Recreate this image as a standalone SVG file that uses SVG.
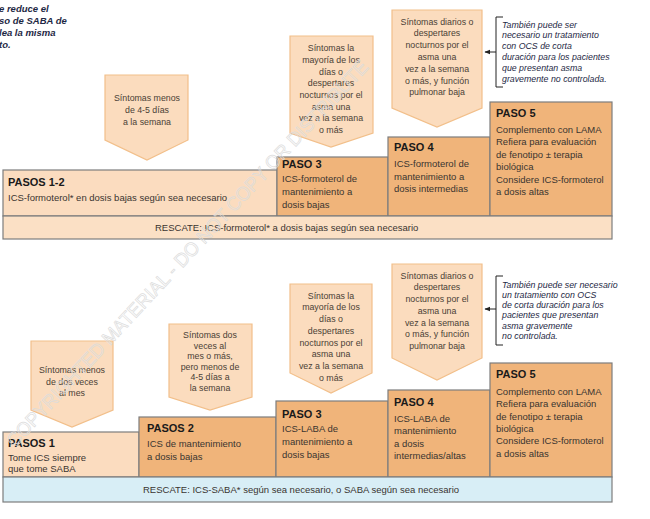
<svg xmlns="http://www.w3.org/2000/svg" width="650" height="519" viewBox="0 0 650 519">
<defs>
<style>
.bg{fill:#ffffff}
.callout{fill:#fbdcbe;stroke:#f2bf8a;stroke-width:1.2}
.light{fill:#fbdcbf;stroke:#7d7d7d;stroke-width:1.2}
.dark{fill:#f0b47a;stroke:#7d7d7d;stroke-width:1.2}
.resc1{fill:#fbe0c5;stroke:#7d7d7d;stroke-width:1.2}
.resc2{fill:#d8eef6;stroke:#7d7d7d;stroke-width:1.2}
.ct{font-family:"Liberation Sans",Arial,sans-serif;font-size:8.8px;fill:#4a3f36;text-anchor:middle}
.hd{font-family:"Liberation Sans",Arial,sans-serif;font-size:11px;font-weight:bold;fill:#1a1a1a}
.bt{font-family:"Liberation Sans",Arial,sans-serif;font-size:9.5px;fill:#3a3430}
.it{font-family:"Liberation Sans",Arial,sans-serif;font-size:8.8px;font-style:italic;fill:#1e2844}
.itb{font-family:"Liberation Sans",Arial,sans-serif;font-size:9.5px;font-style:italic;font-weight:bold;fill:#1e2844}
.br{fill:none;stroke:#222;stroke-width:1}
.wm{font-family:"Liberation Sans",Arial,sans-serif;font-size:19px;fill:none;stroke:#dcdcdc;stroke-width:0.7}
</style>
<marker id="ah" viewBox="0 0 10 10" refX="9" refY="5" markerWidth="6" markerHeight="6" orient="auto">
<path d="M0,1 L10,5 L0,9 z" fill="#222"/>
</marker>
</defs>
<rect class="bg" x="0" y="0" width="650" height="519"/>

<!-- clipped text top-left -->
<g id="note-topleft">
<text class="itb" x="-1" y="12">e reduce el</text>
<text class="itb" x="-1" y="24">so de SABA de</text>
<text class="itb" x="-1" y="36">lea la misma</text>
<text class="itb" x="-1" y="48">to.</text>
</g>

<!-- ===== TOP TRACK ===== -->
<g id="callout-t1">
<polygon class="callout" points="105,75 188,75 188,140 147,160 105,140"/>
<text class="ct" x="147" y="101">Síntomas menos</text>
<text class="ct" x="147" y="113">de 4-5 días</text>
<text class="ct" x="147" y="125">a la semana</text>
</g>
<g id="callout-t2">
<polygon class="callout" points="290,36 373,36 373,133 331,147 290,133"/>
<text class="ct" x="331" y="51">Síntomas la</text>
<text class="ct" x="331" y="63">mayoría de los</text>
<text class="ct" x="331" y="75">días o</text>
<text class="ct" x="331" y="86">despertares</text>
<text class="ct" x="331" y="98">nocturnos por el</text>
<text class="ct" x="331" y="110">asma una</text>
<text class="ct" x="331" y="121">vez a la semana</text>
<text class="ct" x="331" y="133">o más</text>
</g>
<g id="callout-t3">
<polygon class="callout" points="392,10 482,10 482,108 437,127 392,108"/>
<text class="ct" x="437" y="25">Síntomas diarios o</text>
<text class="ct" x="437" y="36">despertares</text>
<text class="ct" x="437" y="48">nocturnos por el</text>
<text class="ct" x="437" y="60">asma una</text>
<text class="ct" x="437" y="72">vez a la semana</text>
<text class="ct" x="437" y="84">o más, y función</text>
<text class="ct" x="437" y="95">pulmonar baja</text>
</g>
<g id="note-t">
<text class="it" x="502" y="28">También puede ser</text>
<text class="it" x="502" y="38">necesario un tratamiento</text>
<text class="it" x="502" y="49">con OCS de corta</text>
<text class="it" x="502" y="60">duración para los pacientes</text>
<text class="it" x="502" y="71">que presentan asma</text>
<text class="it" x="502" y="82">gravemente no controlada.</text>
</g>

<g id="step-t12">
<rect class="light" x="3" y="170" width="274" height="46"/>
<text class="hd" x="8" y="186">PASOS 1-2</text>
<text class="bt" x="8" y="201">ICS-formoterol* en dosis bajas según sea necesario</text>
</g>
<g id="step-t3">
<rect class="dark" x="277" y="157" width="111" height="59"/>
<text class="hd" x="282" y="168">PASO 3</text>
<text class="bt" x="282" y="182">ICS-formoterol de</text>
<text class="bt" x="282" y="195">mantenimiento a</text>
<text class="bt" x="282" y="208">dosis bajas</text>
</g>
<g id="step-t4">
<rect class="dark" x="388" y="137" width="102" height="79"/>
<text class="hd" x="394" y="151">PASO 4</text>
<text class="bt" x="394" y="167">ICS-formoterol de</text>
<text class="bt" x="394" y="180">mantenimiento a</text>
<text class="bt" x="394" y="192">dosis intermedias</text>
</g>
<g id="step-t5">
<rect class="dark" x="490" y="102" width="122" height="114"/>
<text class="hd" x="496" y="117">PASO 5</text>
<text class="bt" x="496" y="133">Complemento con LAMA</text>
<text class="bt" x="496" y="145">Refiera para evaluación</text>
<text class="bt" x="496" y="158">de fenotipo ± terapia</text>
<text class="bt" x="496" y="170">biológica</text>
<text class="bt" x="496" y="183">Considere ICS-formoterol</text>
<text class="bt" x="496" y="195">a dosis altas</text>
</g>
<g id="rescue-t">
<rect class="resc1" x="3" y="216" width="609" height="23"/>
<text class="bt" x="155" y="231">RESCATE: ICS-formoterol* a dosis bajas según sea necesario</text>
</g>

<!-- ===== BOTTOM TRACK ===== -->
<g id="callout-b1">
<polygon class="callout" points="31,341 113,341 113,410 72,427 31,410"/>
<text class="ct" x="72" y="373">Síntomas menos</text>
<text class="ct" x="72" y="385">de dos veces</text>
<text class="ct" x="72" y="396">al mes</text>
</g>
<g id="callout-b2">
<polygon class="callout" points="169,324 252,324 252,397 210,410 169,397"/>
<text class="ct" x="210" y="338">Síntomas dos</text>
<text class="ct" x="210" y="349">veces al</text>
<text class="ct" x="210" y="359">mes o más,</text>
<text class="ct" x="210" y="370">pero menos de</text>
<text class="ct" x="210" y="380">4-5 días a</text>
<text class="ct" x="210" y="391">la semana</text>
</g>
<g id="callout-b3">
<polygon class="callout" points="290,284 372,284 372,373 331,393 290,373"/>
<text class="ct" x="331" y="299">Síntomas la</text>
<text class="ct" x="331" y="310">mayoría de los</text>
<text class="ct" x="331" y="322">días o</text>
<text class="ct" x="331" y="334">despertares</text>
<text class="ct" x="331" y="346">nocturnos por el</text>
<text class="ct" x="331" y="357">asma una</text>
<text class="ct" x="331" y="369">vez a la semana</text>
<text class="ct" x="331" y="381">o más</text>
</g>
<g id="callout-b4">
<polygon class="callout" points="392,264 482,264 482,358 437,380 392,358"/>
<text class="ct" x="437" y="279">Síntomas diarios o</text>
<text class="ct" x="437" y="290">despertares</text>
<text class="ct" x="437" y="302">nocturnos por el</text>
<text class="ct" x="437" y="314">asma una</text>
<text class="ct" x="437" y="326">vez a la semana</text>
<text class="ct" x="437" y="337">o más, y función</text>
<text class="ct" x="437" y="349">pulmonar baja</text>
</g>
<g id="note-b">
<text class="it" x="502" y="288">También puede ser necesario</text>
<text class="it" x="502" y="298">un tratamiento con OCS</text>
<text class="it" x="502" y="308">de corta duración para los</text>
<text class="it" x="502" y="318">pacientes que presentan</text>
<text class="it" x="502" y="329">asma gravemente</text>
<text class="it" x="502" y="339">no controlada.</text>
</g>

<g id="step-b1">
<rect class="light" x="3" y="432" width="136" height="45"/>
<text class="hd" x="8" y="447">PASOS 1</text>
<text class="bt" x="8" y="461">Tome ICS siempre</text>
<text class="bt" x="8" y="472">que tome SABA</text>
</g>
<g id="step-b2">
<rect class="dark" x="139" y="417" width="137" height="60"/>
<text class="hd" x="147" y="432">PASOS 2</text>
<text class="bt" x="147" y="447">ICS de mantenimiento</text>
<text class="bt" x="147" y="460">a dosis bajas</text>
</g>
<g id="step-b3">
<rect class="dark" x="276" y="401" width="112" height="76"/>
<text class="hd" x="282" y="418">PASO 3</text>
<text class="bt" x="282" y="432">ICS-LABA de</text>
<text class="bt" x="282" y="445">mantenimiento a</text>
<text class="bt" x="282" y="458">dosis bajas</text>
</g>
<g id="step-b4">
<rect class="dark" x="388" y="390" width="102" height="87"/>
<text class="hd" x="394" y="406">PASO 4</text>
<text class="bt" x="394" y="422">ICS-LABA de</text>
<text class="bt" x="394" y="434">mantenimiento</text>
<text class="bt" x="394" y="447">a dosis</text>
<text class="bt" x="394" y="459">intermedias/altas</text>
</g>
<g id="step-b5">
<rect class="dark" x="490" y="363" width="122" height="114"/>
<text class="hd" x="496" y="378">PASO 5</text>
<text class="bt" x="496" y="395">Complemento con LAMA</text>
<text class="bt" x="496" y="407">Refiera para evaluación</text>
<text class="bt" x="496" y="420">de fenotipo ± terapia</text>
<text class="bt" x="496" y="432">biológica</text>
<text class="bt" x="496" y="444">Considere ICS-formoterol</text>
<text class="bt" x="496" y="457">a dosis altas</text>
</g>
<g id="rescue-b">
<rect class="resc2" x="3" y="477" width="609" height="25"/>
<text class="bt" x="143" y="493">RESCATE: ICS-SABA* según sea necesario, o SABA según sea necesario</text>
</g>

<!-- connectors: brackets with arrows -->
<g id="connectors">
<path class="br" d="M503,17 H496 V87 H503"/>
<path class="br" d="M496,52 H485" marker-end="url(#ah)"/>
<path class="br" d="M503,276 H496 V345 H503"/>
<path class="br" d="M496,309 H485" marker-end="url(#ah)"/>
</g>

<!-- watermark -->
<text class="wm" x="192" y="258" text-anchor="middle" textLength="520" lengthAdjust="spacingAndGlyphs" transform="rotate(-47 192 258)">COPYRIGHTED MATERIAL - DO NOT COPY OR DISTRIBUTE</text>
</svg>
